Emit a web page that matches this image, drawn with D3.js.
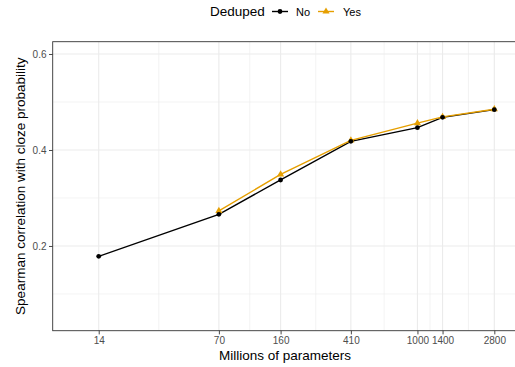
<!DOCTYPE html>
<html><head><meta charset="utf-8">
<script src="https://cdn.jsdelivr.net/npm/d3@7"></script>
<style>body{margin:0;background:#fff;overflow:hidden}svg{display:block}text{font-family:"Liberation Sans",Arial,Helvetica,sans-serif}</style>
</head><body>
<script>
const params = [14, 70, 160, 410, 1000, 1400, 2800];
const noValues = [0.1785, 0.266, 0.3375, 0.418, 0.4465, 0.468, 0.484];
const yesParams = [70, 160, 410, 1000, 1400, 2800];
const yesValues = [0.273, 0.349, 0.420, 0.456, 0.469, 0.485];
const xTicks = [14, 70, 160, 410, 1000, 1400, 2800];
const yTicks = [0.2, 0.4, 0.6];
const yMinor = [0.1, 0.3, 0.5];
const seriesNames = ["No", "Yes"];
const seriesColors = ["#000000", "#E69F00"];

const W = 515, H = 367;
const pl = 52.7, pr = 517, pt = 41.7, pb = 330.7;
const svg = d3.select("body").append("svg").attr("width", W).attr("height", H);

const x = d3.scaleLog().domain([7.56, 3794]).range([pl, pr]);
const y = d3.scaleLinear().domain([0.0235, 0.6256]).range([pb, pt]);

// minor vertical grid: geometric midpoints between breaks
const xMinor = d3.pairs(xTicks).map(([a, b]) => Math.sqrt(a * b));

const g = svg.append("g");
g.selectAll(".ymin").data(yMinor).join("line")
  .attr("x1", pl).attr("x2", pr).attr("y1", d => y(d)).attr("y2", d => y(d))
  .attr("stroke", "#EBEBEB").attr("stroke-width", 0.6);
g.selectAll(".xmin").data(xMinor).join("line")
  .attr("y1", pt).attr("y2", pb).attr("x1", d => x(d)).attr("x2", d => x(d))
  .attr("stroke", "#EBEBEB").attr("stroke-width", 0.6);
g.selectAll(".ymaj").data(yTicks).join("line")
  .attr("x1", pl).attr("x2", pr).attr("y1", d => y(d)).attr("y2", d => y(d))
  .attr("stroke", "#EBEBEB").attr("stroke-width", 1.1);
g.selectAll(".xmaj").data(xTicks).join("line")
  .attr("y1", pt).attr("y2", pb).attr("x1", d => x(d)).attr("x2", d => x(d))
  .attr("stroke", "#EBEBEB").attr("stroke-width", 1.1);

const line = d3.line().x(d => x(d[0])).y(d => y(d[1]));
const noData = params.map((p, i) => [p, noValues[i]]);
const yesData = yesParams.map((p, i) => [p, yesValues[i]]);

svg.append("path").datum(noData).attr("d", line).attr("fill", "none")
  .attr("stroke", seriesColors[0]).attr("stroke-width", 1.4);
svg.append("path").datum(yesData).attr("d", line).attr("fill", "none")
  .attr("stroke", seriesColors[1]).attr("stroke-width", 1.4);

const tri = d3.symbol().type(d3.symbolTriangle).size(22);
svg.selectAll(".ypt").data(yesData).join("path")
  .attr("d", tri).attr("transform", d => `translate(${x(d[0])},${y(d[1])})`)
  .attr("fill", seriesColors[1]);
svg.selectAll(".npt").data(noData).join("circle")
  .attr("cx", d => x(d[0])).attr("cy", d => y(d[1])).attr("r", 2.4)
  .attr("fill", seriesColors[0]);

// panel border
svg.append("rect").attr("x", pl).attr("y", pt).attr("width", pr - pl).attr("height", pb - pt)
  .attr("fill", "none").attr("stroke", "#333333").attr("stroke-width", 0.9);

// axes
const xAxis = d3.axisBottom(x).tickValues(xTicks).tickFormat(d3.format("d")).tickSize(3.7).tickPadding(2.5);
const yAxis = d3.axisLeft(y).tickValues(yTicks).tickFormat(d3.format(".1f")).tickSize(3.7).tickPadding(2.5);
const gx = svg.append("g").attr("transform", `translate(0,${pb})`).call(xAxis);
const gy = svg.append("g").attr("transform", `translate(${pl},0)`).call(yAxis);
[gx, gy].forEach(a => {
  a.select(".domain").remove();
  a.selectAll(".tick line").attr("stroke", "#333333").attr("stroke-width", 0.9);
  a.selectAll(".tick text").attr("fill", "#4D4D4D").style("font-size", "10px")
    .style("font-family", '"Liberation Sans",Arial,Helvetica,sans-serif');
});

svg.append("text").attr("x", 285).attr("y", 360).attr("text-anchor", "middle")
  .style("font-size", "13.5px").attr("fill", "#000").text("Millions of parameters");
svg.append("text").attr("transform", `translate(25,${(pt + pb) / 2}) rotate(-90)`)
  .attr("text-anchor", "middle").style("font-size", "13.5px").attr("fill", "#000")
  .text("Spearman correlation with cloze probability");

// legend
const lg = svg.append("g");
lg.append("text").attr("x", 210).attr("y", 16).style("font-size", "13.5px").text("Deduped");
const keyX = [272, 318], labX = [296, 343];
seriesNames.forEach((n, i) => {
  lg.append("line").attr("x1", keyX[i]).attr("x2", keyX[i] + 16).attr("y1", 11.5).attr("y2", 11.5)
    .attr("stroke", seriesColors[i]).attr("stroke-width", 1.4);
  if (i === 0) lg.append("circle").attr("cx", keyX[i] + 8).attr("cy", 11.5).attr("r", 2.4).attr("fill", seriesColors[i]);
  else lg.append("path").attr("d", tri).attr("transform", `translate(${keyX[i] + 8},11.5)`).attr("fill", seriesColors[i]);
  lg.append("text").attr("x", labX[i]).attr("y", 15.5).style("font-size", "11px").text(n);
});
</script>
</body></html>
